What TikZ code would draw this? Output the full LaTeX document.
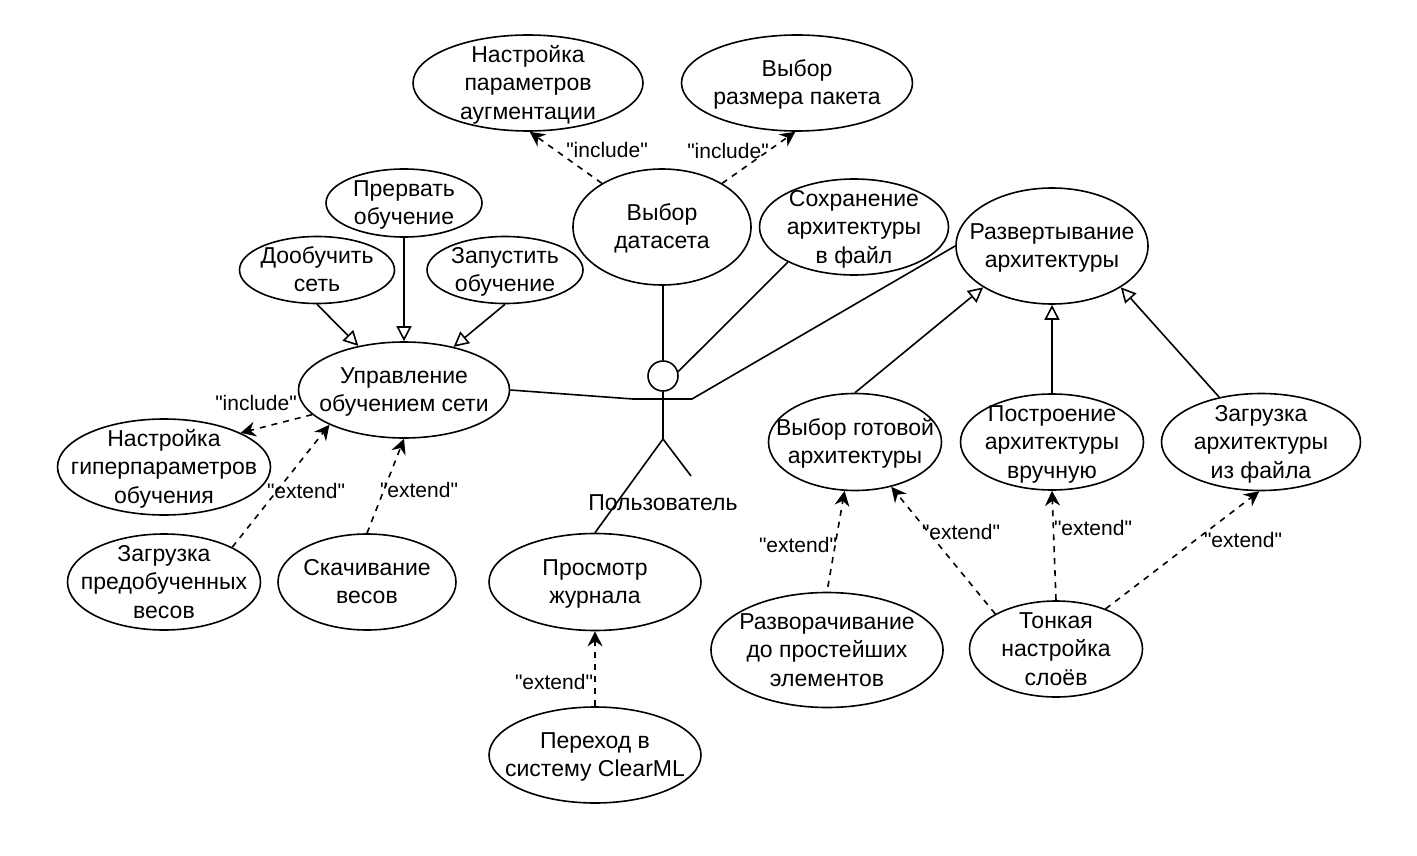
\documentclass[tikz,border=0pt]{standalone}
\usepackage{fontspec}
\setmainfont{Liberation Sans}[Ligatures=TeXOff]
\usetikzlibrary{shapes.geometric,arrows.meta}
\newcommand{\uctext}[1]{\smash{\makebox[0pt]{\raisebox{-0.35em}{\begin{tabular}{@{}c@{}}#1\end{tabular}}}}}
\tikzset{
    usecase/.style 2 args={draw,ellipse,inner sep=0pt,minimum width=#1pt,minimum height=#2pt},
    general/.style={-{Triangle[open,fill=white,length=15pt,width=15pt]}},
    depend/.style={dash pattern=on 6pt off 6pt,-{Stealth[length=15pt,width=15pt,inset=5pt]}},
    stereo/.style={inner sep=0pt,font=\fontsize{21}{26}\selectfont}
}
\begin{document}
\begin{tikzpicture}[x=1pt,y=-1pt,line width=1.6pt,every node/.style={font=\fontsize{23}{28.5}\selectfont}]
    \useasboundingbox (0,0) rectangle (1417,856);
    % Varianten
    \node (augment) [usecase={230}{96}] at (528,83) {\uctext{Настройка\\параметров\\аугментации}};
    \node (batch) [usecase={231}{96}] at (797,83) {\uctext{Выбор\\размера пакета}};
    \node (dataset) [usecase={178}{116}] at (662,227) {\uctext{Выбор\\датасета}};
    \node (save) [usecase={189}{96}] at (854,227) {\uctext{Сохранение\\архитектуры\\в файл}};
    \node (deploy) [usecase={192}{116}] at (1052,246) {\uctext{Развертывание\\архитектуры}};
    \node (stop) [usecase={156}{68}] at (404,203) {\uctext{Прервать\\обучение}};
    \node (retrain) [usecase={155}{67}] at (317,270) {\uctext{Дообучить\\сеть}};
    \node (start) [usecase={156}{67}] at (505,270) {\uctext{Запустить\\обучение}};
    \node (manage) [usecase={211}{96}] at (404,390) {\uctext{Управление\\обучением сети}};
    \node (hyper) [usecase={213}{96}] at (164,467) {\uctext{Настройка\\гиперпараметров\\обучения}};
    \node (weights) [usecase={193}{96}] at (164,582) {\uctext{Загрузка\\предобученных\\весов}};
    \node (download) [usecase={178}{96}] at (367,582) {\uctext{Скачивание\\весов}};
    \node (log) [usecase={212}{97}] at (595,582) {\uctext{Просмотр\\журнала}};
    \node (clearml) [usecase={212}{96}] at (595,755) {\uctext{Переход в\\систему ClearML}};
    \node (ready) [usecase={173}{97}] at (855,442) {\uctext{Выбор готовой\\архитектуры}};
    \node (manual) [usecase={183}{96}] at (1052,442) {\uctext{Построение\\архитектуры\\вручную}};
    \node (file) [usecase={199}{97}] at (1261,442) {\uctext{Загрузка\\архитектуры\\из файла}};
    \node (expand) [usecase={232}{115}] at (827,650) {\uctext{Разворачивание\\до простейших\\элементов}};
    \node (tune) [usecase={173}{96}] at (1056,649) {\uctext{Тонкая\\настройка\\слоёв}};
    % Akteur
    \node (head) [draw,circle,inner sep=0pt,minimum size=30pt] at (663,376) {};
    \coordinate (armleft) at (633,399);
    \coordinate (armright) at (692,399);
    \coordinate (neck) at (663,399);
    \coordinate (hip) at (663,439);
    \coordinate (legright) at (691,476);
    \node (user) [inner sep=0pt] at (663,503) {Пользователь};
    \draw (head) -- (neck) -- (hip) -- (legright);
    \draw (hip) -- (log.north);
    \draw (manage.east) -- (armleft) -- (armright) -- (deploy.west);
    \draw (dataset.south -| head) -- (head.north);
    \draw (save.208) -- (head.16);
    % Vererbung
    \draw [general] (retrain.south) -- (manage.136);
    \draw [general] (stop.south) -- (manage.north);
    \draw [general] (start.south) -- (manage.41);
    \draw [general] (ready.north) -- (deploy.211);
    \draw [general] (manual.north) -- (deploy.south);
    \draw [general] (file.133) -- (deploy.329);
    % Abhaengigkeiten
    \draw [depend] (dataset.144) -- (augment.272);
    \draw [depend] (dataset.36) -- (batch.268);
    \draw [depend] (manage.195) -- (hyper.24);
    \draw [depend] (weights.27) -- (manage.205);
    \draw [depend] (download.north) -- (manage.270);
    \draw [depend] (clearml.north) -- (log.south);
    \draw [depend,shorten <=5pt] (expand.north) -- (ready.258);
    \draw [depend] (tune.150) -- (ready.309);
    \draw [depend] (tune.north) -- (manual.south);
    \draw [depend] (tune.39) -- (file.268);
    % Beschriftungen
    \node (lblaugment) [stereo] at (607,150) {"include"};
    \node (lblbatch) [stereo] at (728,151) {"include"};
    \node (lblhyper) [stereo] at (256,403) {"include"};
    \node (lblweights) [stereo] at (306,491) {"extend"};
    \node (lbldownload) [stereo] at (419,490) {"extend"};
    \node (lblclearml) [stereo] at (554,682) {"extend"};
    \node (lblexpand) [stereo] at (798,545) {"extend"};
    \node (lblready) [stereo] at (961,532) {"extend"};
    \node (lblmanual) [stereo] at (1093,528) {"extend"};
    \node (lblfile) [stereo] at (1243,540) {"extend"};
\end{tikzpicture}
\end{document}
